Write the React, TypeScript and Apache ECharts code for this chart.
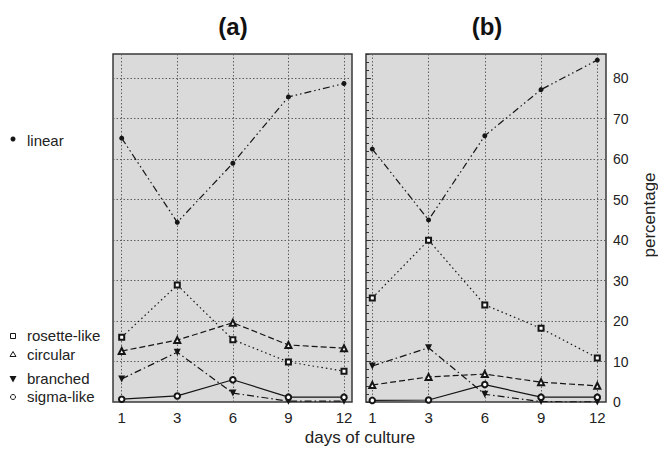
import React, { useEffect, useRef } from "react";
import * as echarts from "echarts";

const days = ["1", "3", "6", "9", "12"];
const yTickValues = [0, 10, 20, 30, 40, 50, 60, 70, 80];

// panel (a)
const aLinear = [65.2, 44.4, 59.0, 75.4, 78.7];
const aRosette = [16.0, 28.9, 15.4, 9.9, 7.6];
const aCircular = [12.6, 15.3, 19.6, 14.1, 13.3];
const aBranched = [5.7, 12.3, 2.2, 0.2, 0.2];
const aSigma = [0.7, 1.5, 5.5, 1.2, 1.2];

// panel (b)
const bLinear = [62.5, 45.0, 65.8, 77.2, 84.5];
const bRosette = [25.7, 40.0, 24.0, 18.2, 10.9];
const bCircular = [4.2, 6.2, 6.9, 4.9, 4.0];
const bBranched = [8.9, 13.4, 1.9, 0.1, 0.0];
const bSigma = [0.4, 0.5, 4.3, 1.2, 1.2];

const Y_MAX = 86;
const FONT = "Liberation Sans, Arial, sans-serif";
const INK = "#151515";

function mk(name: string, data: number[], idx: number, symbol: string, size: number, dash: any, rotate = 0) {
  return {
    type: "line",
    name,
    data,
    xAxisIndex: idx,
    yAxisIndex: idx,
    symbol,
    symbolSize: size,
    symbolRotate: rotate,
    showSymbol: true,
    lineStyle: { color: INK, width: 1.2, type: dash },
    itemStyle: { color: INK, borderWidth: 1 },
    emphasis: { disabled: true },
    z: 5,
  };
}

const DASHDOTDOT = [7, 3, 1.5, 3, 1.5, 3];
const DOTTED = [1.5, 3];
const DASHED = [6, 3];
const DASHDOT = [7, 3, 1.5, 3];

function panelSeries(idx: number, lin: number[], ros: number[], cir: number[], bra: number[], sig: number[]) {
  return [
    mk("linear", lin, idx, "circle", 5, DASHDOTDOT),
    mk("rosette-like", ros, idx, "emptyRect", 5, DOTTED),
    mk("circular", cir, idx, "emptyTriangle", 6, DASHED),
    mk("branched", bra, idx, "triangle", 7, DASHDOT, 180),
    mk("sigma-like", sig, idx, "emptyCircle", 5.5, "solid"),
  ];
}

const frameGrid = (left: number, width: number) => ({
  left,
  top: 54,
  width,
  height: 348,
  show: true,
  backgroundColor: "#dadada",
  borderColor: "#3a3a3a",
  borderWidth: 1.5,
});
const innerGrid = (left: number, width: number) => ({ left, top: 54, width, height: 348 });

const hiddenX = (gridIndex: number) => ({ type: "value", gridIndex, min: 0, max: 1, show: false });
const hiddenY = (gridIndex: number) => ({ type: "value", gridIndex, min: 0, max: Y_MAX, show: false });

const GRIDLINE = { color: "#5e5e5e", type: [1.5, 2], width: 1 };

const catX = (gridIndex: number) => ({
  type: "category",
  gridIndex,
  data: days,
  boundaryGap: false,
  axisLine: { show: false },
  axisTick: { show: false },
  axisLabel: { color: "#222", fontSize: 15, fontFamily: FONT, margin: 8 },
  splitLine: { show: true, lineStyle: GRIDLINE },
});

const splitY = {
  show: true,
  showMinLine: false,
  showMaxLine: false,
  lineStyle: GRIDLINE,
};

function legendItem(y: number, label: string, marker: any) {
  return [
    marker,
    {
      type: "text",
      x: 27,
      y,
      style: { text: label, fontSize: 15, fontFamily: FONT, fill: "#222", verticalAlign: "middle", align: "left" },
    },
  ];
}

export default function App() {
  const ref = useRef<HTMLDivElement>(null);
  useEffect(() => {
    if (!ref.current) return;
    const chart = echarts.init(ref.current, undefined, { renderer: "svg" });
    const mstroke = { stroke: INK, fill: "#fff", lineWidth: 1 };
    chart.setOption({
      animation: false,
      backgroundColor: "#ffffff",
      grid: [
        frameGrid(113, 239),
        innerGrid(121.7, 222.3),
        frameGrid(366, 240),
        innerGrid(372.3, 225),
        innerGrid(366, 240),
      ],
      xAxis: [hiddenX(0), catX(1), hiddenX(2), catX(3), hiddenX(4)],
      yAxis: [
        {
          type: "value",
          gridIndex: 0,
          min: 0,
          max: Y_MAX,
          interval: 10,
          axisLine: { show: false },
          axisTick: { show: false },
          axisLabel: { show: false },
          splitLine: splitY,
        },
        hiddenY(1),
        {
          type: "value",
          gridIndex: 2,
          position: "right",
          min: 0,
          max: Y_MAX,
          interval: 10,
          axisLine: { show: false },
          axisTick: { show: true, length: 5, inside: false, customValues: yTickValues, lineStyle: { color: "#333" } },
          axisLabel: { show: true, customValues: yTickValues, color: "#222", fontSize: 14, fontFamily: FONT, margin: 7 },
          splitLine: splitY,
        },
        hiddenY(3),
        {
          type: "value",
          gridIndex: 4,
          position: "right",
          min: 0,
          max: Y_MAX,
          interval: 2,
          axisLine: { show: false },
          axisTick: { show: true, length: 3, inside: false, lineStyle: { color: "#333" } },
          axisLabel: { show: false },
          splitLine: { show: false },
        },
      ],
      series: [
        ...panelSeries(1, aLinear, aRosette, aCircular, aBranched, aSigma),
        ...panelSeries(3, bLinear, bRosette, bCircular, bBranched, bSigma),
      ],
      graphic: [
        { type: "text", x: 233, y: 26, style: { text: "(a)", fontSize: 24, fontWeight: "bold", fontFamily: FONT, fill: "#111", align: "center", verticalAlign: "middle" } },
        { type: "text", x: 487, y: 26, style: { text: "(b)", fontSize: 24, fontWeight: "bold", fontFamily: FONT, fill: "#111", align: "center", verticalAlign: "middle" } },
        { type: "text", x: 360, y: 437, style: { text: "days of culture", fontSize: 17, fontFamily: FONT, fill: "#222", align: "center", verticalAlign: "middle" } },
        { type: "text", x: 649, y: 215, rotation: Math.PI / 2, style: { text: "percentage", fontSize: 17, fontFamily: FONT, fill: "#222", align: "center", verticalAlign: "middle" } },
        ...legendItem(140, "linear", { type: "circle", shape: { cx: 13, cy: 139, r: 2.5 }, style: { fill: INK } }),
        ...legendItem(335, "rosette-like", { type: "rect", shape: { x: 10.5, y: 333.5, width: 5, height: 5 }, style: mstroke }),
        ...legendItem(354, "circular", { type: "polygon", shape: { points: [[13, 351.5], [16, 356.5], [10, 356.5]] }, style: mstroke }),
        ...legendItem(378, "branched", { type: "polygon", shape: { points: [[9.5, 376], [16.5, 376], [13, 382.5]] }, style: { fill: INK } }),
        ...legendItem(396, "sigma-like", { type: "circle", shape: { cx: 13, cy: 397, r: 2.5 }, style: mstroke }),
      ],
    });
    return () => chart.dispose();
  }, []);
  return <div ref={ref} style={{ position: "fixed", left: 0, top: 0, width: 658, height: 453 }} />;
}
